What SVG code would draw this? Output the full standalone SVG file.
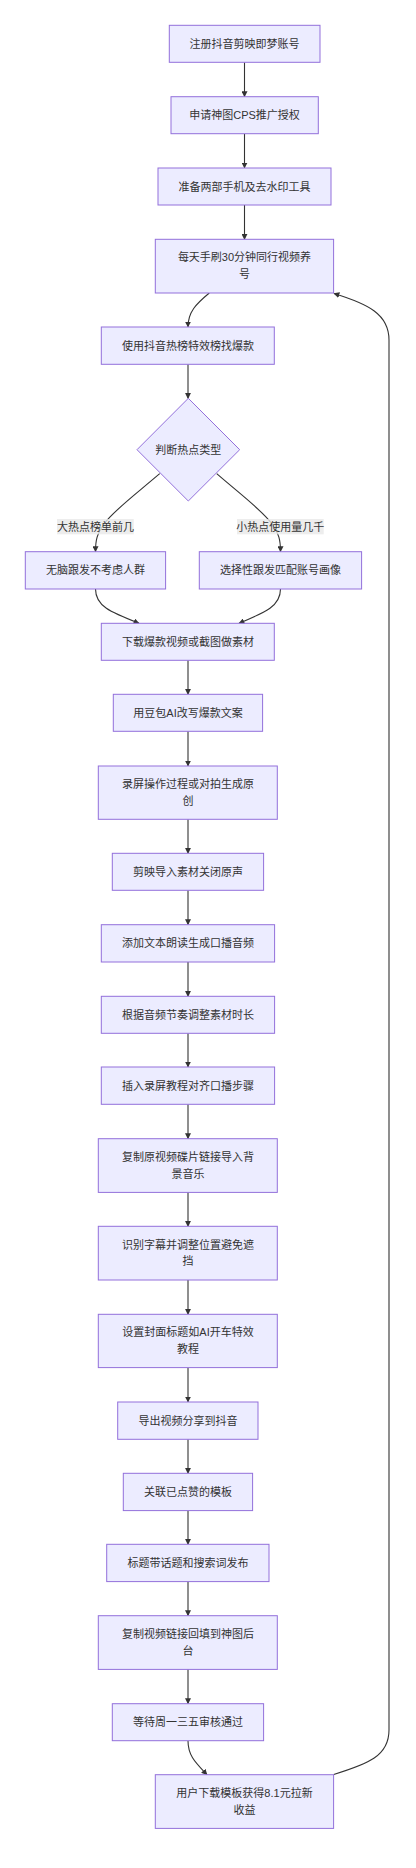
<svg xmlns="http://www.w3.org/2000/svg" width="416" height="1868" viewBox="0 0 416 1868">
<style>
.n rect,.n polygon{fill:#ECECFF;stroke:#9370DB;stroke-width:1}
text{font-family:"Liberation Sans","Noto Sans CJK SC",sans-serif;font-size:11px;fill:#333;text-anchor:middle;dominant-baseline:central}
.e path{fill:none;stroke:#333;stroke-width:1.1;marker-end:url(#arr)}
.lb rect{fill:#e8e8e8;opacity:0.8}
</style>
<defs>
<marker id="arr" viewBox="0 0 10 10" refX="9" refY="5" markerUnits="userSpaceOnUse" markerWidth="6" markerHeight="6" orient="auto">
<path d="M0,0 L10,5 L0,10 z" fill="#333"/>
</marker>
</defs>
<rect width="416" height="1868" fill="#fff"/>
<g id="edges" class="e">
<path d="M244.5,62.3 L244.5,96.7"/>
<path d="M244.5,133.7 L244.5,168"/>
<path d="M244.5,205 L244.5,239.3"/>
<path d="M209.3,293 C196,304 188,312 188,327"/>
<path d="M188,364.3 L188,398.3"/>
<path d="M159.7,473.7 C136,494 113,511 104,524 C97,534 95.5,540 95.5,551.7"/>
<path d="M216.7,473.7 C240,494 263,511 272,524 C279,534 280.5,540 280.5,551.7"/>
<path d="M95.5,589 C95.5,606 110,612 139,623.3"/>
<path d="M280.5,589 C280.5,606 266,612 239,623.3"/>
<path d="M188,660.3 L188,694.3"/>
<path d="M188,731.3 L188,766"/>
<path d="M188,819.3 L188,853.3"/>
<path d="M188,890.3 L188,924.7"/>
<path d="M188,962 L188,996.3"/>
<path d="M188,1033.3 L188,1067"/>
<path d="M188,1104.3 L188,1138.7"/>
<path d="M188,1192.3 L188,1226.3"/>
<path d="M188,1280 L188,1314.3"/>
<path d="M188,1367.7 L188,1402"/>
<path d="M188,1439.3 L188,1473.3"/>
<path d="M188,1510.7 L188,1544.3"/>
<path d="M188,1581.7 L188,1615.7"/>
<path d="M188,1669.3 L188,1703.7"/>
<path d="M188,1740.7 C188,1756 196,1763 207,1774.7"/>
<path d="M333.7,1774.5 C368,1764 389,1756 389,1730 L389,340 C389,314 368,304 334,293.5"/>
</g>
<g id="label-big" class="lb"><rect x="57" y="519" width="76.7" height="15.3"/><text x="95.4" y="526.8">大热点榜单前几</text></g>
<g id="label-small" class="lb"><rect x="237" y="519" width="86.7" height="15.3"/><text x="280.3" y="526.8">小热点使用量几千</text></g>
<g id="n1" class="n"><rect x="169.3" y="25.3" width="150.7" height="37"/><text x="244.5" y="43.8">注册抖音剪映即梦账号</text></g>
<g id="n2" class="n"><rect x="171" y="96.7" width="147.3" height="37"/><text x="244.5" y="115.2">申请神图CPS推广授权</text></g>
<g id="n3" class="n"><rect x="158" y="168" width="173" height="37"/><text x="244.5" y="186.5">准备两部手机及去水印工具</text></g>
<g id="n4" class="n"><rect x="155.3" y="239.3" width="178.3" height="53.7"/><text x="244.5" y="257.4">每天手刷30分钟同行视频养</text><text x="244.5" y="274.2">号</text></g>
<g id="n5" class="n"><rect x="101.3" y="327" width="173" height="37.3"/><text x="188" y="345.7">使用抖音热榜特效榜找爆款</text></g>
<g id="n6" class="n"><polygon points="188.3,398.3 239.7,449.7 188.3,501 137,449.7"/><text x="188.3" y="449.7">判断热点类型</text></g>
<g id="n7" class="n"><rect x="25.3" y="551.7" width="140.3" height="37.3"/><text x="95.5" y="570.3">无脑跟发不考虑人群</text></g>
<g id="n8" class="n"><rect x="199.3" y="551.7" width="162.3" height="37.3"/><text x="280.5" y="570.3">选择性跟发匹配账号画像</text></g>
<g id="n9" class="n"><rect x="101.3" y="623.3" width="173" height="37"/><text x="188" y="641.8">下载爆款视频或截图做素材</text></g>
<g id="n10" class="n"><rect x="113.3" y="694.3" width="149.3" height="37"/><text x="188" y="712.8">用豆包AI改写爆款文案</text></g>
<g id="n11" class="n"><rect x="98.3" y="766" width="179" height="53.3"/><text x="188" y="784">录屏操作过程或对拍生成原</text><text x="188" y="800.7">创</text></g>
<g id="n12" class="n"><rect x="112.3" y="853.3" width="151.3" height="37"/><text x="188" y="871.8">剪映导入素材关闭原声</text></g>
<g id="n13" class="n"><rect x="101.3" y="924.7" width="173.3" height="37.3"/><text x="188" y="943.3">添加文本朗读生成口播音频</text></g>
<g id="n14" class="n"><rect x="101.3" y="996.3" width="173.3" height="37"/><text x="188" y="1014.8">根据音频节奏调整素材时长</text></g>
<g id="n15" class="n"><rect x="101.3" y="1067" width="173.3" height="37.3"/><text x="188" y="1085.7">插入录屏教程对齐口播步骤</text></g>
<g id="n16" class="n"><rect x="98.3" y="1138.7" width="179" height="53.7"/><text x="188" y="1157">复制原视频碟片链接导入背</text><text x="188" y="1173.7">景音乐</text></g>
<g id="n17" class="n"><rect x="98.3" y="1226.3" width="179" height="53.7"/><text x="188" y="1244.6">识别字幕并调整位置避免遮</text><text x="188" y="1261.3">挡</text></g>
<g id="n18" class="n"><rect x="98.3" y="1314.3" width="179" height="53.3"/><text x="188" y="1332.4">设置封面标题如AI开车特效</text><text x="188" y="1349.1">教程</text></g>
<g id="n19" class="n"><rect x="117.7" y="1402" width="140.3" height="37.3"/><text x="188" y="1420.6">导出视频分享到抖音</text></g>
<g id="n20" class="n"><rect x="123.3" y="1473.3" width="129.3" height="37.3"/><text x="188" y="1492">关联已点赞的模板</text></g>
<g id="n21" class="n"><rect x="106.7" y="1544.3" width="162.3" height="37.3"/><text x="188" y="1563">标题带话题和搜索词发布</text></g>
<g id="n22" class="n"><rect x="98.3" y="1615.7" width="179" height="53.7"/><text x="188" y="1634">复制视频链接回填到神图后</text><text x="188" y="1650.7">台</text></g>
<g id="n23" class="n"><rect x="112.3" y="1703.7" width="151.3" height="37"/><text x="188" y="1722.2">等待周一三五审核通过</text></g>
<g id="n24" class="n"><rect x="155.3" y="1774.7" width="178.3" height="53.7"/><text x="244.5" y="1793">用户下载模板获得8.1元拉新</text><text x="244.5" y="1809.7">收益</text></g>
</svg>
